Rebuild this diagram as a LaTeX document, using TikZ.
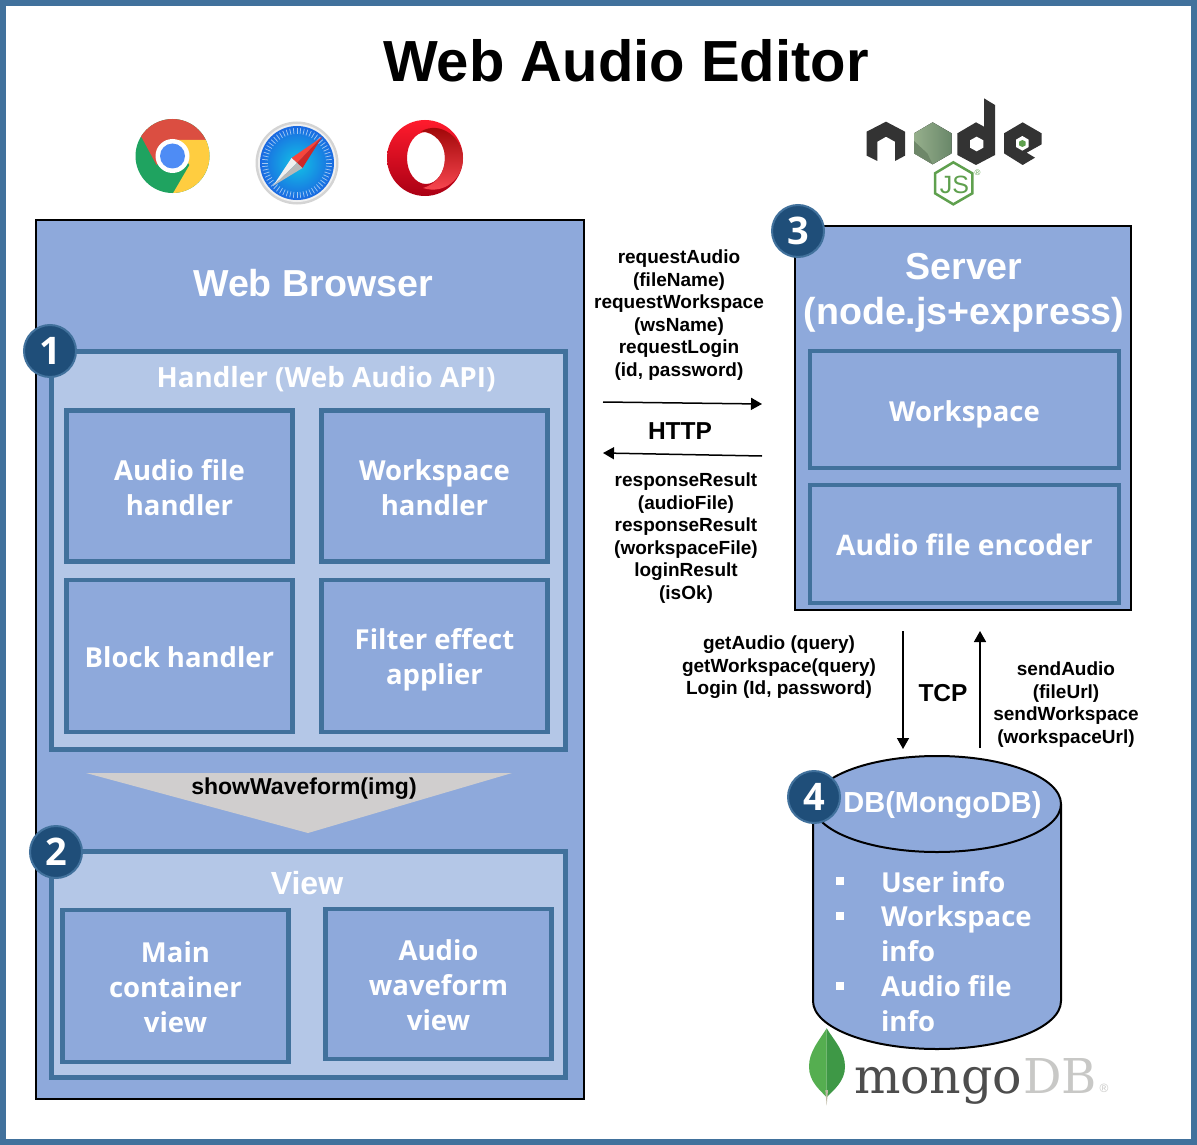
\documentclass[tikz,border=0pt]{standalone}
\usepackage{fontspec}
\usetikzlibrary{arrows.meta}
\setmainfont{Liberation Sans}
\newfontfamily\softsans{Open Sans}[WordSpace=1.6]
\newfontfamily\badgesans{Open Sans}
\newfontfamily\slabfont{DejaVu Serif}
\definecolor{frameblue}{HTML}{41719C}
\definecolor{midblue}{HTML}{8EA9DB}
\definecolor{lightblue}{HTML}{B4C7E7}
\definecolor{navy}{HTML}{1F4E79}
\definecolor{tri}{HTML}{D0CECE}
\definecolor{nodedark}{HTML}{333333}
\definecolor{nodegreen}{HTML}{5FA04E}
\definecolor{mongogrey}{HTML}{4D4D4D}
\definecolor{dbgrey}{HTML}{C8C8C6}
\definecolor{chromegreen}{HTML}{1FA360}
\definecolor{chromered}{HTML}{DB4E41}
\definecolor{chromeyellow}{HTML}{FFCD40}
\definecolor{chromeblue}{HTML}{4E8CF5}
\tikzset{
  every node/.style={inner sep=0pt,outer sep=0pt},
  softtitle/.style={text=white,align=center,font=\softsans\bfseries\fontsize{27.5}{35}\selectfont},
  inbox/.style={draw=frameblue,line width=4.7pt,fill=midblue,minimum width=226pt,minimum height=151pt},
  groupbox/.style={draw=frameblue,line width=4.7pt,fill=lightblue,minimum width=514pt},
  whitebold/.style={text=white,align=center,font=\bfseries\fontsize{37.6}{45}\selectfont},
  msg/.style={align=center,font=\bfseries\fontsize{19}{22.5}\selectfont},
  proto/.style={font=\bfseries\fontsize{24.5}{28}\selectfont},
  badge/.style={circle,draw=frameblue,line width=2pt,fill=navy,text=white,minimum size=52pt,font=\badgesans\bfseries\fontsize{38}{40}\selectfont},
  flow/.style={line width=1.5pt,-{Triangle[length=11pt,width=12pt]}},
  dbtext/.style={anchor=base west,text=white,font=\softsans\bfseries\fontsize{27.5}{35}\selectfont},
  bullet/.style={fill=white,minimum size=8pt},
}
\begin{document}
\begin{tikzpicture}[x=1pt,y=-1pt]
\useasboundingbox (0,0) rectangle (1197,1145);
\fill[white] (0,0) rectangle (1197,1145);
\draw[frameblue,line width=6pt] (3,3) rectangle (1194,1142);
\node[font=\bfseries\fontsize{58}{62}\selectfont] (title) at (626,61) {Web Audio Editor};

% Chrome
\begin{scope}[shift={(172.5,156)},yscale=-1]
  \fill[chromegreen] (0,0) circle[radius=37];
  \fill[chromered] (148:37) arc[start angle=148,end angle=26,radius=37] -- (0,16) -- (-16,-9) -- cycle;
  \fill[chromeyellow] (0,16) -- (26:37) arc[start angle=26,end angle=-89,radius=37] -- (17,-9) -- cycle;
  \fill[white] (0,0) circle[radius=17];
  \fill[chromeblue] (0,0) circle[radius=12.5];
\end{scope}
% Safari
\begin{scope}[shift={(297,163)},yscale=-1]
  \fill[fill={rgb,255:red,212;green,212;blue,212}] (0,0) circle[radius=41.5];
  \fill[fill={rgb,255:red,240;green,240;blue,240}] (0,0) circle[radius=39];
  \shade[inner color={rgb,255:red,18;green,195;blue,230},outer color={rgb,255:red,26;green,105;blue,225}] (0,0) circle[radius=37];
  \foreach \a in {0,6,...,354} {\draw[white,opacity=.6,line width=.7pt] (\a:29) -- (\a:35);}
  \fill[fill={rgb,255:red,245;green,70;blue,60}] (25,26) -- (-5.5,5) -- (0,0) -- cycle;
  \fill[fill={rgb,255:red,205;green,40;blue,40}] (25,26) -- (5.5,-5) -- (0,0) -- cycle;
  \fill[fill={rgb,255:red,240;green,240;blue,240}] (-24,-23) -- (-5.5,5) -- (0,0) -- cycle;
  \fill[fill={rgb,255:red,185;green,185;blue,185}] (-24,-23) -- (5.5,-5) -- (0,0) -- cycle;
\end{scope}
% Opera
\begin{scope}[shift={(425,158)},yscale=-1]
  \shade[top color={rgb,255:red,255;green,27;blue,45},bottom color={rgb,255:red,170;green,0;blue,20},even odd rule] (0,0) circle[radius=38] (1,0) ellipse[x radius=19,y radius=26];
  \shade[top color={rgb,255:red,150;green,0;blue,0},bottom color={rgb,255:red,255;green,75;blue,85}] (-4,26.5) .. controls (15,38) and (38,20) .. (38,0) .. controls (38,-20) and (20,-37) .. (-2,-30) .. controls (12,-26) and (20,-14) .. (20,0) .. controls (20,14) and (10,26) .. (-4,26.5);
\end{scope}
% node logo
\begin{scope}[shift={(840,85)},scale=1/3]
  \fill[nodedark] (80,140) -- (138,110) -- (195,140) -- (195,212) -- (165,228) -- (165,170) -- (138,155) -- (112,170) -- (112,228) -- (80,212) -- cycle;
  \fill[left color={rgb,255:red,150;green,175;blue,140},right color={rgb,255:red,105;green,135;blue,105}] (278,112) -- (335,145) -- (335,205) -- (278,238) -- (222,205) -- (222,145) -- cycle;
  \fill[fill={rgb,255:red,110;green,135;blue,105}] (222,168) -- (222,205) -- (278,238) -- (262,205) -- cycle;
  \fill[nodedark] (432,40) -- (465,60) -- (465,210) -- (408,240) -- (352,210) -- (352,145) -- (408,112) -- (432,125) -- cycle;
  \fill[white] (410,155) -- (430,166) -- (430,188) -- (410,199) -- (390,188) -- (390,166) -- cycle;
  \fill[nodedark] (548,112) -- (605,145) -- (605,178) -- (560,203) -- (585,218) -- (548,240) -- (492,205) -- (492,145) -- cycle;
  \fill[white] (547,153) -- (566,164) -- (566,186) -- (547,197) -- (528,186) -- (528,164) -- cycle;
  \fill[nodegreen] (547,165) -- (557,170) -- (557,181) -- (547,186) -- (537,181) -- (537,170) -- cycle;
  \draw[nodegreen,line width=2.5pt,line join=miter] (340,232) -- (397,265) -- (397,325) -- (340,358) -- (285,325) -- (285,265) -- cycle;
  \node[text=nodegreen,font=\fontsize{25}{25}\selectfont] (jslabel) at (343,300) {JS};
  \node[text=nodegreen,font=\fontsize{8}{8}\selectfont] (jsreg) at (413,264) {®};
\end{scope}
% mongo logo
\begin{scope}[shift={(790,1010)},scale=1/3]
  \fill[fill={rgb,255:red,85;green,174;blue,80}] (110,55) .. controls (85,95) and (57,125) .. (57,170) .. controls (57,215) and (90,240) .. (110,262) -- cycle;
  \fill[fill={rgb,255:red,62;green,152;blue,70}] (110,55) .. controls (135,95) and (165,125) .. (165,170) .. controls (165,215) and (130,240) .. (110,262) -- cycle;
  \fill[fill={rgb,255:red,190;green,185;blue,165}] (106,240) -- (114,240) -- (110,287) -- cycle;
\end{scope}
\node[anchor=base west,text=mongogrey,font=\slabfont\fontsize{49}{50}\selectfont] (mongotext) at (854,1093) {mongo};
\node[anchor=base west,text=dbgrey,font=\slabfont\fontsize{48}{50}\selectfont] (dbtextlogo) at (1023,1093) {DB};
\node[text=dbgrey,font=\fontsize{12}{12}\selectfont] (dbreg) at (1104,1088) {®};

% Web browser
\node[draw=black,line width=2pt,fill=midblue,minimum width=548pt,minimum height=879pt] (browser) at (310,659.5) {};
\node[whitebold] (browsertitle) at (313,283) {Web Browser};
\node[groupbox,minimum height=398pt] (handler) at (308.5,550.5) {};
\node[softtitle,font=\softsans\bfseries\fontsize{27.8}{35}\selectfont] (handlertitle) at (326,379.5) {Handler (Web Audio API)};
\node[inbox,label={[softtitle,yshift=-2pt]center:Audio file\\handler}] (audiohandler) at (179.5,486) {};
\node[inbox,label={[softtitle,yshift=-2pt]center:Workspace\\handler}] (wshandler) at (434.5,486) {};
\node[inbox,minimum height=152pt,label={[softtitle,yshift=-1.5pt]center:Block handler}] (blockhandler) at (179.5,656) {};
\node[inbox,minimum height=152pt,label={[softtitle,yshift=-3.5pt]center:Filter effect\\applier}] (filterapplier) at (434.5,656) {};
\fill[tri] (86,773) -- (512,773) -- (308,833) -- cycle;
\node[font=\bfseries\fontsize{23}{25}\selectfont] (wave) at (304,789) {showWaveform(img)};
\node[groupbox,minimum height=226pt] (view) at (308.5,964.5) {};
\node[text=white,font=\bfseries\fontsize{32}{36}\selectfont] (viewtitle) at (307,883) {View};
\node[inbox,minimum height=152pt,label={[softtitle,yshift=-1pt]center:Main\\container\\view}] (mainview) at (175.5,986) {};
\node[inbox,minimum height=150pt,label={[softtitle,yshift=-1pt]center:Audio\\waveform\\view}] (waveview) at (438.5,984) {};

% Server
\node[draw=black,line width=2pt,fill=midblue,minimum width=336pt,minimum height=384pt] (server) at (963,418) {};
\node[whitebold] (servertitle) at (964,292.5) {Server\\(node.js+express)};
\node[inbox,minimum width=309pt,minimum height=117pt,label={[softtitle,yshift=-5pt]center:Workspace}] (workspace) at (964.5,409.5) {};
\node[inbox,minimum width=309pt,minimum height=118pt,label={[softtitle,font=\softsans\bfseries\fontsize{28.3}{35}\selectfont,yshift=-1pt]center:Audio file encoder}] (encoder) at (964.5,544) {};

% DB cylinder
\fill[midblue] (813,804) -- (813,1001) .. controls (813,1027.5) and (868.5,1049) .. (937,1049) .. controls (1005.5,1049) and (1061,1027.5) .. (1061,1001) -- (1061,804) -- cycle;
\fill[midblue] (937,804) ellipse[x radius=124,y radius=48];
\draw[black,line width=2pt] (813,804) -- (813,1001) .. controls (813,1027.5) and (868.5,1049) .. (937,1049) .. controls (1005.5,1049) and (1061,1027.5) .. (1061,1001) -- (1061,804);
\draw[black,line width=2pt] (937,804) ellipse[x radius=124,y radius=48];
\node[text=white,font=\bfseries\fontsize{29}{34}\selectfont] (dbtitle) at (942.5,805) {DB(MongoDB)};
\node[bullet] (b1) at (840,881) {};
\node[bullet] (b2) at (840,916) {};
\node[bullet] (b3) at (840,986) {};
\node[dbtext] (t1) at (881,892) {User info};
\node[dbtext] (t2) at (881,926.5) {Workspace};
\node[dbtext] (t3) at (881,961) {info};
\node[dbtext] (t4) at (881,996) {Audio file};
\node[dbtext] (t5) at (881,1031) {info};

% messages
\node[msg] (req) at (679,315) {requestAudio\\(fileName)\\requestWorkspace\\(wsName)\\requestLogin\\(id, password)};
\node[msg] (resp) at (686,538) {responseResult\\(audioFile)\\responseResult\\(workspaceFile)\\loginResult\\(isOk)};
\node[msg] (getq) at (779,667.5) {getAudio (query)\\getWorkspace(query)\\Login (Id, password)};
\node[msg] (sendq) at (1066,704.5) {sendAudio\\(fileUrl)\\sendWorkspace\\(workspaceUrl)};
\node[proto] (http) at (680,431) {HTTP};
\node[proto] (tcp) at (943,693) {TCP};

% connectors
\coordinate (h1a) at (603,402);
\coordinate (h1b) at (762,404);
\coordinate (h2a) at (762,456);
\coordinate (h2b) at (603,453);
\coordinate (t1a) at (903,631);
\coordinate (t1b) at (903,749);
\coordinate (t2a) at (980,748);
\coordinate (t2b) at (980,631);
\draw[flow] (h1a) -- (h1b);
\draw[flow] (h2a) -- (h2b);
\draw[flow] (t1a) -- (t1b);
\draw[flow] (t2a) -- (t2b);

% badges
\node[badge] (n1) at (50,351) {1};
\node[badge] (n2) at (56,852) {2};
\node[badge] (n3) at (798,231) {3};
\node[badge] (n4) at (814,797) {4};
\end{tikzpicture}
\end{document}
